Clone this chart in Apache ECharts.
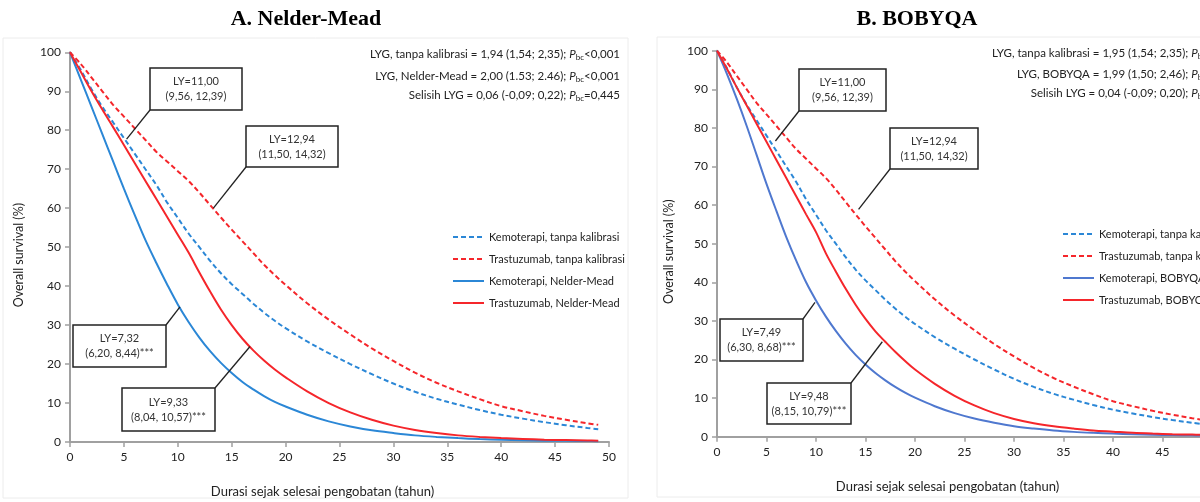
<!DOCTYPE html>
<html>
<head>
<meta charset="utf-8">
<script src="https://cdn.jsdelivr.net/npm/echarts/dist/echarts.min.js"></script>
<style>html,body{margin:0;padding:0;background:#fff}#c{width:1200px;height:502px}</style>
</head>
<body>
<div id="c"></div>
<script>
// ---------- data ----------
const years = [0,1,2,3,4,5,6,7,8,9,10,11,12,13,14,15,16,17,18,19,20,22,24,26,28,30,32,34,36,38,40,42,44,46,48,49];
const kemoTanpa = [100,95.5,90.5,86,82,78,74,70,66,61.5,57.5,53.5,50,46.5,43.3,40.5,38,35.5,33.2,31.1,29.2,25.8,22.8,20,17.4,15,12.9,11.1,9.6,8.2,7,6,5.1,4.3,3.6,3.3];
const trasTanpa = [100,97,93.5,90,86.5,83.5,80.5,77.5,74.5,72,69.5,67,64,60.8,57.6,54.5,51.5,48.5,45.5,42.8,40.3,35.6,31.4,27.6,24,20.8,17.8,15.2,13,11,9.2,7.9,6.7,5.7,4.8,4.4];
const kemoNelder = [100,93,86,79,72,65,58.3,51.8,46,40.5,35.3,30.8,26.8,23.3,20.3,17.7,15.4,13.5,11.8,10.3,9.1,7,5.3,4,3,2.3,1.7,1.3,1,0.75,0.6,0.45,0.35,0.3,0.25,0.2];
const trasNelder = [100,95,90,85.3,80.8,76.2,71.6,67,62.4,57.8,53.2,48.6,43.5,38.6,34,30,26.5,23.5,20.9,18.6,16.6,13,10,7.6,5.7,4.2,3.1,2.3,1.7,1.3,1,0.8,0.6,0.5,0.4,0.35];
const kemoBobyqa = [100,94,87.5,80.5,73,65.5,58.5,51.7,45.6,40,35.3,31.1,27.4,24.1,21.2,18.7,16.5,14.6,12.9,11.4,10.1,7.9,6.1,4.7,3.6,2.7,2.1,1.6,1.25,1,0.8,0.65,0.5,0.42,0.35,0.3];
const trasBobyqa = [100,95.3,90.5,85.8,81.1,76.4,71.7,67,62.3,57.6,53,47.5,42.8,38.3,34.2,30.5,27.3,24.6,22,19.6,17.4,13.7,10.6,8.1,6.1,4.6,3.5,2.7,2.1,1.6,1.3,1,0.8,0.65,0.55,0.5];

const panelTitles = ['A. Nelder-Mead', 'B. BOBYQA'];
const nameKT = 'Kemoterapi, tanpa kalibrasi';
const nameTT = 'Trastuzumab, tanpa kalibrasi';
const namesCal = [['Kemoterapi, Nelder-Mead','Trastuzumab, Nelder-Mead'],['Kemoterapi, BOBYQA','Trastuzumab, BOBYQA']];
const xAxisTitle = 'Durasi sejak selesai pengobatan (tahun)';
const yAxisTitle = 'Overall survival (%)';

// annotation boxes: labels and the curve points they point to
const boxLabels = [
  ['LY=11,00\n(9,56, 12,39)','LY=12,94\n(11,50, 14,32)','LY=7,32\n(6,20, 8,44)***','LY=9,33\n(8,04, 10,57)***'],
  ['LY=11,00\n(9,56, 12,39)','LY=12,94\n(11,50, 14,32)','LY=7,49\n(6,30, 8,68)***','LY=9,48\n(8,15, 10,79)***']
];
const anchorT = [[5.25,13.3,10.2,16.7],[5.9,14.3,9.9,16.7]];
const anchorV = [[77.7,60,34.7,24.5],[76.6,58.9,34.8,24.6]];

// statistics text
const stats = [
  [['LYG, tanpa kalibrasi = 1,94 (1,54; 2,35); ','<0,001'],['LYG, Nelder-Mead = 2,00 (1.53; 2.46); ','<0,001'],['Selisih LYG = 0,06 (-0,09; 0,22); ','=0,445']],
  [['LYG, tanpa kalibrasi = 1,95 (1,54; 2,35); ','<0,001'],['LYG, BOBYQA = 1,99 (1,50; 2,46); ','<0,001'],['Selisih LYG = 0,04 (-0,09; 0,20); ','=0,445']]
];

// ---------- chart ----------
const FONT = 'Lato, "Open Sans", sans-serif';
const BLUE = '#2b87d6', BLUE_B = '#4f78cf', RED = '#f5262b';
const pair = arr => years.map((t,i)=>[t,arr[i]]);

const chart = echarts.init(document.getElementById('c'));

const grids = [
  {left:70, top:52.3, width:539, height:389.7, outerBoundsMode:'none', containLabel:false},
  {left:717, top:50.7, width:495, height:386, outerBoundsMode:'none', containLabel:false}
];

function mkX(i){
  return {
    type:'value', gridIndex:i, min:0, max:50, interval:5,
    name:xAxisTitle, nameLocation:'middle', nameGap:i===0?43:44,
    nameTextStyle:{fontFamily:FONT, fontSize:13, color:'#222', padding:[0,34,0,0]},
    axisLine:{show:true, onZero:false, lineStyle:{color:'#a0a0a0', width:2}},
    axisTick:{show:true, length:5, lineStyle:{color:'#a0a0a0', width:1.5}},
    axisLabel:{fontFamily:FONT, fontSize:12, color:'#222', margin:9},
    splitLine:{show:false}
  };
}
function mkY(i){
  return {
    type:'value', gridIndex:i, min:0, max:100, interval:10,
    name:yAxisTitle, nameLocation:'middle', nameGap:i===0?45:42,
    nameTextStyle:{fontFamily:FONT, fontSize:12.5, color:'#222', padding:[0,16,0,0]},
    axisLine:{show:true, lineStyle:{color:'#a0a0a0', width:2}},
    axisTick:{show:true, length:5, lineStyle:{color:'#a0a0a0', width:1.5}},
    axisLabel:{fontFamily:FONT, fontSize:12, color:'#222', margin:9},
    splitLine:{show:false}
  };
}
function line(name, data, idx, color, dashed){
  return {
    type:'line', name, xAxisIndex:idx, yAxisIndex:idx, data:pair(data),
    symbol:'none', smooth:0.35, color,
    lineStyle:{color, width:2, type:dashed?[5,3]:'solid'},
    itemStyle:{color}, z: dashed?2:3
  };
}

const series = [
  line(nameKT, kemoTanpa, 0, BLUE, true),
  line(nameTT, trasTanpa, 0, RED, true),
  line(namesCal[0][0], kemoNelder, 0, BLUE, false),
  line(namesCal[0][1], trasNelder, 0, RED, false),
  line(nameKT, kemoTanpa, 1, BLUE, true),
  line(nameTT, trasTanpa, 1, RED, true),
  line(namesCal[1][0], kemoBobyqa, 1, BLUE_B, false),
  line(namesCal[1][1], trasBobyqa, 1, RED, false)
];

function mkLegend(i, left, top){
  return {
    orient:'vertical', left, top, padding:0, itemWidth:31, itemHeight:10, itemGap:8,
    data:[nameKT, nameTT, namesCal[i][0], namesCal[i][1]],
    itemStyle:{opacity:0},
    textStyle:{fontFamily:FONT, fontSize:11, color:'#222', lineHeight:14},
    selectedMode:false
  };
}

chart.setOption({
  animation:false,
  backgroundColor:'#fff',
  title:[
    {text:panelTitles[0], left:301, top:3, textAlign:'center', textStyle:{fontFamily:'"Liberation Serif", serif', fontWeight:'bold', fontSize:22, color:'#000'}},
    {text:panelTitles[1], left:912, top:3, textAlign:'center', textStyle:{fontFamily:'"Liberation Serif", serif', fontWeight:'bold', fontSize:22, color:'#000'}}
  ],
  grid:grids,
  xAxis:[mkX(0), mkX(1)],
  yAxis:[mkY(0), mkY(1)],
  legend:[mkLegend(0, 452, 230), mkLegend(1, 1062, 227)],
  series
});

// ---------- annotations ----------
const boxGeom = [
  [[150,68,92,42],[246,126,92,41],[73,325,93,42],[122,388,93,43]],
  [[799,69,87,42],[890,128,88,41],[720,319,83,42],[767,383,84,41]]
];
const corner = ['bl','bl','tr','tr'];
const g = [];
g.push({type:'rect', shape:{x:3,y:38,width:625,height:460}, style:{fill:'none', stroke:'#ececec', lineWidth:1}, z:0});
g.push({type:'rect', shape:{x:657,y:37,width:600,height:460}, style:{fill:'none', stroke:'#ececec', lineWidth:1}, z:0});

for (let p=0;p<2;p++){
  for (let k=0;k<4;k++){
    const [x,y,w,h] = boxGeom[p][k];
    const pt = chart.convertToPixel({xAxisIndex:p, yAxisIndex:p}, [anchorT[p][k], anchorV[p][k]]);
    const c = corner[k]==='bl' ? [x, y+h] : [x+w, y];
    g.push({type:'line', shape:{x1:c[0], y1:c[1], x2:pt[0], y2:pt[1]}, style:{stroke:'#222', lineWidth:1.3}, z:20});
    g.push({type:'rect', shape:{x, y, width:w, height:h}, style:{fill:'#fff', stroke:'#222', lineWidth:1.5}, z:21});
    g.push({type:'text', x:x+w/2, y:y+h/2, style:{text:boxLabels[p][k], fontFamily:FONT, fontSize:11, fill:'#333', align:'center', verticalAlign:'middle', lineHeight:15}, z:22});
  }
}
const statRight = [620, 1242];
const statY = [[54,76,95],[53,74,93]];
for (let p=0;p<2;p++){
  for (let k=0;k<3;k++){
    g.push({type:'text', x:statRight[p], y:statY[p][k], z:22, style:{
      text:'{n|'+stats[p][k][0]+'}{i|P}{s|bc}{n|'+stats[p][k][1]+'}',
      align:'right', verticalAlign:'middle',
      rich:{
        n:{fontFamily:FONT, fontSize:11.5, fill:'#222'},
        i:{fontFamily:FONT, fontSize:11.5, fill:'#222', fontStyle:'italic'},
        s:{fontFamily:FONT, fontSize:8, fill:'#222', padding:[6,0,0,0]}
      }
    }});
  }
}
chart.setOption({graphic:g});
</script>
</body>
</html>
